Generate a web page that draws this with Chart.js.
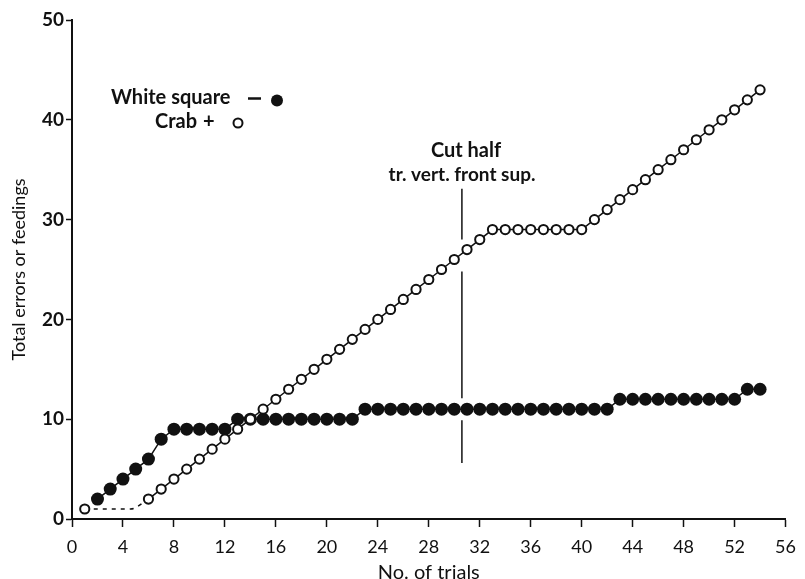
<!DOCTYPE html>
<html>
<head>
<meta charset="utf-8">
<script src="https://cdn.jsdelivr.net/npm/chart.js@4.4.1/dist/chart.umd.min.js"></script>
<style>
  html, body { margin: 0; padding: 0; background: #fff; }
  #wrap { width: 805px; height: 579px; }
</style>
</head>
<body>
<div id="wrap"><canvas id="c" width="805" height="579"></canvas></div>
<script>
// Cumulative totals per trial
const whiteTrials = [2,3,4,5,6,7,8,9,10,11,12,13,14,15,16,17,18,19,20,21,22,23,24,25,26,27,28,29,30,31,32,33,34,35,36,37,38,39,40,41,42,43,44,45,46,47,48,49,50,51,52,53,54];
const whiteValues = [2,3,4,5,6,8,9,9,9,9,9,10,10,10,10,10,10,10,10,10,10,11,11,11,11,11,11,11,11,11,11,11,11,11,11,11,11,11,11,11,11,12,12,12,12,12,12,12,12,12,12,13,13];

const crabTrials = [1,6,7,8,9,10,11,12,13,14,15,16,17,18,19,20,21,22,23,24,25,26,27,28,29,30,31,32,33,34,35,36,37,38,39,40,41,42,43,44,45,46,47,48,49,50,51,52,53,54];
const crabValues = [1,2,3,4,5,6,7,8,9,10,11,12,13,14,15,16,17,18,19,20,21,22,23,24,25,26,27,28,29,29,29,29,29,29,29,29,30,31,32,33,34,35,36,37,38,39,40,41,42,43];

// Dashed bridge over the trials without a crab record
const bridgeTrials = [1, 4.6, 6];
const bridgeValues = [1, 1, 2];

// Operation marker: trial position and the drawn stretches of the line
const cutTrial = 30.6;
const cutSegments = [[33.1, 28.0], [24.8, 12.1], [9.9, 5.6]];

const xTicks = [0,4,8,12,16,20,24,28,32,36,40,44,48,52,56];
const yTicks = [0,10,20,30,40,50];

const FONT = 'Lato, "Open Sans", sans-serif';

const pts = (xs, ys) => xs.map((x, i) => ({ x: x, y: ys[i] }));

const cutData = [];
cutSegments.forEach((s, i) => {
  if (i > 0) cutData.push({ x: cutTrial, y: null });
  cutData.push({ x: cutTrial, y: s[0] }, { x: cutTrial, y: s[1] });
});

const notes = {
  id: 'notes',
  afterDraw(chart) {
    const ctx = chart.ctx;
    ctx.save();
    ctx.fillStyle = '#111';
    ctx.strokeStyle = '#111';
    ctx.textBaseline = 'alphabetic';

    // key
    ctx.font = 'bold 20px ' + FONT;
    ctx.textAlign = 'left';
    ctx.fillText('White square', 111, 104);
    ctx.fillText('Crab', 155, 128);
    ctx.fillText('+', 203, 128);
    ctx.lineWidth = 2.5;
    ctx.beginPath();
    ctx.moveTo(248, 98.5);
    ctx.lineTo(261, 98.5);
    ctx.stroke();
    ctx.beginPath();
    ctx.arc(277, 100.5, 6, 0, Math.PI * 2);
    ctx.fill();
    ctx.lineWidth = 2;
    ctx.beginPath();
    ctx.arc(238, 123, 4.5, 0, Math.PI * 2);
    ctx.stroke();

    // operation label
    ctx.font = 'bold 20px ' + FONT;
    ctx.textAlign = 'center';
    ctx.fillText('Cut half', 466, 157);
    ctx.font = 'bold 19px ' + FONT;
    ctx.fillText('tr. vert. front sup.', 462, 181);
    ctx.restore();
  }
};

new Chart(document.getElementById('c'), {
  type: 'line',
  data: {
    datasets: [
      {
        label: 'Crab',
        data: pts(crabTrials, crabValues),
        order: 0,
        borderColor: '#111',
        borderWidth: 1.5,
        pointRadius: 4.6,
        pointBorderWidth: 2,
        pointBackgroundColor: '#fff',
        pointBorderColor: '#111',
        segment: { borderColor: c => c.p0DataIndex === 0 ? 'rgba(0,0,0,0)' : '#111' },
        tension: 0
      },
      {
        label: 'bridge',
        data: pts(bridgeTrials, bridgeValues),
        order: 1,
        borderColor: '#111',
        borderWidth: 1.5,
        borderDash: [4, 5],
        pointRadius: 0,
        cubicInterpolationMode: 'monotone'
      },
      {
        label: 'White square',
        data: pts(whiteTrials, whiteValues),
        order: 2,
        borderColor: '#111',
        borderWidth: 1.5,
        pointRadius: 6.5,
        pointBorderWidth: 0,
        pointBackgroundColor: '#111',
        tension: 0
      },
      {
        label: 'cut',
        data: cutData,
        order: 3,
        borderColor: '#111',
        borderWidth: 1.5,
        pointRadius: 0,
        spanGaps: false
      }
    ]
  },
  options: {
    responsive: false,
    animation: false,
    events: [],
    layout: { padding: { left: 0, right: 15, top: 20, bottom: 0 } },
    plugins: { legend: { display: false }, tooltip: { enabled: false } },
    scales: {
      x: {
        type: 'linear',
        min: 0, max: 56,
        afterFit: s => { s.height = 60; },
        afterBuildTicks: s => { s.ticks = xTicks.map(v => ({ value: v })); },
        grid: { drawOnChartArea: false, drawTicks: true, tickLength: 8, tickColor: '#111', tickWidth: 1.5 },
        border: { display: true, color: '#111', width: 2 },
        ticks: { color: '#111', font: { family: FONT, size: 18 }, padding: 9, maxRotation: 0, autoSkip: false },
        title: { display: true, text: 'No. of trials', color: '#111', font: { family: FONT, size: 20, lineHeight: 0.6 }, padding: { top: 0, bottom: 0 } }
      },
      y: {
        type: 'linear',
        min: 0, max: 50,
        afterFit: s => { s.width = 72; },
        afterBuildTicks: s => { s.ticks = yTicks.map(v => ({ value: v })); },
        grid: { drawOnChartArea: false, drawTicks: true, tickLength: 6, tickColor: '#111', tickWidth: 1.5 },
        border: { display: true, color: '#111', width: 2 },
        ticks: { color: '#111', font: { family: FONT, size: 19, weight: 'bold' }, padding: 2 },
        title: { display: true, text: 'Total errors or feedings', color: '#111', font: { family: FONT, size: 18 }, padding: { top: 8, bottom: 0 } }
      }
    }
  },
  plugins: [notes]
});
</script>
</body>
</html>
